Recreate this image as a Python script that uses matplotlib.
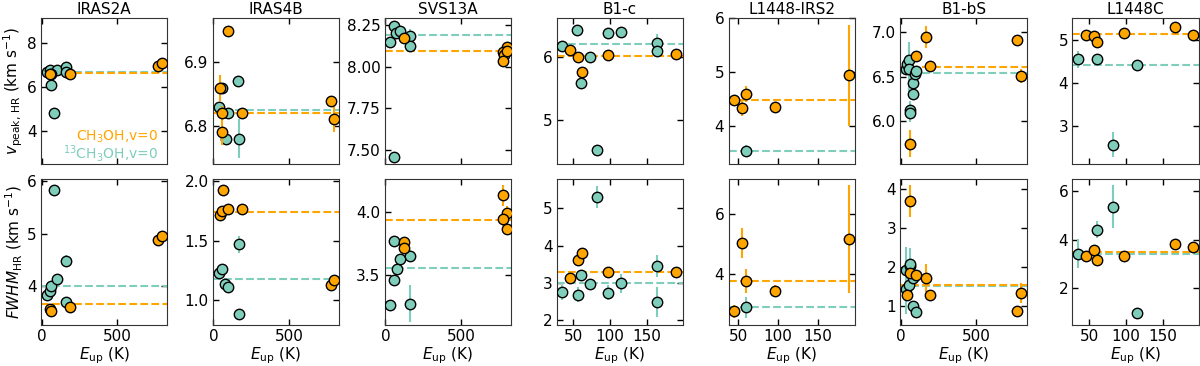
import matplotlib
matplotlib.use('Agg')
import matplotlib.pyplot as plt

# sources (columns)
sources = ['IRAS2A', 'IRAS4B', 'SVS13A', 'B1-c', 'L1448-IRS2', 'B1-bS', 'L1448C']

# peak velocities, (Eup [K], v [km/s], err)
vpeak_main = {
    'IRAS2A':     [(61, 6.58, 0), (55, 6.60, 0), (189, 6.60, 0), (770, 6.98, 0), (796, 7.09, 0)],
    'IRAS4B':     [(99, 6.949, 0.007), (44, 6.86, 0.02), (57, 6.821, 0.01), (55, 6.791, 0.02),
                   (189, 6.82, 0.008), (774, 6.84, 0.008), (796, 6.811, 0.02)],
    'SVS13A':     [(121, 8.175, 0.01), (802, 8.119, 0.01), (775, 8.087, 0.01), (786, 8.073, 0.01),
                   (775, 8.036, 0.01), (802, 8.097, 0.01)],
    'B1-c':       [(45, 6.106, 0.02), (56, 6.0, 0.02), (61, 5.75, 0.03), (97, 6.02, 0.02), (190, 6.04, 0.02)],
    'L1448-IRS2': [(45, 4.48, 0.05), (55, 4.33, 0.15), (60, 4.59, 0.15), (96.5, 4.36, 0.05), (190, 4.94, 0.94)],
    'B1-bS':      [(58, 5.75, 0.15), (97, 6.733, 0.03), (166, 6.947, 0.12), (190, 6.624, 0.03),
                   (774, 6.914, 0.03), (801, 6.511, 0.08)],
    'L1448C':     [(45.5, 5.13, 0.03), (56.8, 5.11, 0.03), (61, 4.96, 0.05), (97, 5.16, 0.03),
                   (166, 5.31, 0.03), (190.5, 5.125, 0.03)],
}
vpeak_13c = {
    'IRAS2A':     [(35, 6.68, 0), (57, 6.76, 0), (61, 6.08, 0), (79, 4.82, 0), (101, 6.80, 0),
                   (162, 6.94, 0), (164, 6.68, 0)],
    'IRAS4B':     [(35, 6.83, 0.005), (57, 6.86, 0.008), (99, 6.821, 0.008), (83, 6.781, 0.01),
                   (162, 6.87, 0.008), (167, 6.781, 0.03)],
    'SVS13A':     [(55, 8.248, 0.01), (33, 8.147, 0.01), (70, 8.204, 0.01), (99, 8.214, 0.01),
                   (165, 8.187, 0.04), (165, 8.127, 0.01), (59, 7.46, 0.01)],
    'B1-c':       [(34, 6.16, 0.03), (55, 6.415, 0.03), (72, 6.0, 0.03), (60, 5.585, 0.03),
                   (97, 6.37, 0.08), (115, 6.39, 0.08), (163, 6.21, 0.15), (163, 6.08, 0.08), (82, 4.52, 0.08)],
    'L1448-IRS2': [(60, 3.54, 0.1)],
    'B1-bS':      [(29, 6.59, 0.05), (40, 6.639, 0.1), (55, 6.684, 0.2), (53, 6.583, 0.25),
                   (58, 6.128, 0.1), (62, 6.09, 0.1), (77, 6.305, 0.05), (80, 6.436, 0.05),
                   (95, 6.534, 0.05), (100, 6.56, 0.05)],
    'L1448C':     [(35, 4.56, 0.2), (61, 4.56, 0.05), (115, 4.42, 0.05), (82.4, 2.58, 0.3)],
}

# line widths, (Eup [K], FWHM [km/s], err)
fwhm_main = {
    'IRAS2A':     [(55, 3.56, 0), (61, 3.52, 0), (189, 3.60, 0), (770, 4.88, 0), (796, 4.95, 0.05)],
    'IRAS4B':     [(61, 1.93, 0.02), (46, 1.72, 0.05), (55, 1.75, 0.03), (99, 1.77, 0.02),
                   (189, 1.77, 0.04), (774, 1.13, 0.02), (796, 1.17, 0.02)],
    'SVS13A':     [(126, 3.76, 0.02), (126, 3.712, 0.02), (775, 4.128, 0.08), (802, 3.986, 0.06),
                   (775, 3.938, 0.05), (802, 3.861, 0.05)],
    'B1-c':       [(45, 3.14, 0.05), (56, 3.6, 0.05), (61, 3.79, 0.05), (97, 3.3, 0.05), (190, 3.3, 0.05)],
    'L1448-IRS2': [(45, 2.76, 0.2), (55, 5.05, 0.5), (60, 3.77, 0.4), (96.5, 3.43, 0.2), (190, 5.18, 1.8)],
    'B1-bS':      [(58, 3.69, 0.42), (40, 1.3, 0.1), (62, 1.85, 0.1), (97, 1.8, 0.1), (166, 1.72, 0.35),
                   (190, 1.3, 0.1), (774, 0.87, 0.05), (801, 1.34, 0.25)],
    'L1448C':     [(45.5, 3.31, 0.05), (56.8, 3.57, 0.05), (61, 3.16, 0.05), (97, 3.35, 0.05),
                   (166, 3.82, 0.05), (190.5, 3.7, 0.05)],
}
fwhm_13c = {
    'IRAS2A':     [(79, 5.84, 0), (35, 3.83, 0), (57, 3.90, 0), (61, 4.01, 0), (101, 4.13, 0),
                   (162, 4.49, 0.1), (164, 3.70, 0.1)],
    'IRAS4B':     [(35, 1.23, 0.01), (57, 1.26, 0.01), (79, 1.14, 0.01), (99, 1.11, 0.01),
                   (167, 1.47, 0.07), (167, 0.89, 0.01)],
    'SVS13A':     [(33, 3.26, 0.02), (55, 3.457, 0.02), (77, 3.546, 0.02), (99, 3.625, 0.02),
                   (165, 3.647, 0.05), (59, 3.764, 0.02), (165, 3.27, 0.15)],
    'B1-c':       [(34, 2.75, 0.2), (56, 2.68, 0.2), (60, 3.21, 0.1), (72, 2.96, 0.1), (82, 5.3, 0.3),
                   (97, 2.73, 0.2), (115, 2.99, 0.25), (163, 3.46, 0.3), (163, 2.49, 0.4)],
    'L1448-IRS2': [(60, 2.9, 0.35)],
    'B1-bS':      [(29, 1.92, 0.6), (35, 1.45, 0.65), (58, 2.03, 0.45), (62, 2.08, 0.1), (53, 1.54, 0.2),
                   (77, 1.71, 0.1), (80, 1.0, 0.1), (100, 0.84, 0.1)],
    'L1448C':     [(34.2, 3.43, 0.6), (60, 4.41, 0.35), (82.4, 5.37, 0.9), (115, 0.97, 0.05)],
}

# mean values (dashed lines)
vpeak_mean_main = [6.64, 6.820, 8.094, 6.016, 4.48, 6.61, 5.14]
vpeak_mean_13c = [6.68, 6.825, 8.19, 6.197, 3.54, 6.545, 4.42]
fwhm_mean_main = [3.66, 1.74, 3.93, 3.30, 3.77, 1.55, 3.48]
fwhm_mean_13c = [4.01, 1.18, 3.55, 2.99, 2.90, 1.52, 3.43]

# axis limits
xlims = [(-5, 830), (-5, 830), (-5, 830), (27, 199), (38, 197), (-5, 840), (27, 199)]
ylims_top = [(2.5, 9.15), (6.741, 6.969), (7.415, 8.294), (4.30, 6.61), (3.29, 6.01), (5.523, 7.158), (2.125, 5.52)]
ylims_bot = [(3.26, 6.05), (0.794, 2.02), (3.10, 4.26), (1.87, 5.79), (2.31, 7.18), (0.52, 4.26), (0.48, 6.52)]

c_main = '#ffa500'
c_13c = '#7fcdbb'

plt.rcParams['font.size'] = 11

fig, axes = plt.subplots(2, 7, figsize=(12, 3.66))
fig.subplots_adjust(left=0.034, right=0.999, top=0.951, bottom=0.112, wspace=0.36, hspace=0.1)


def plot_set(ax, pts, color, z):
    for x, y, e in pts:
        if e > 0:
            ax.errorbar(x, y, yerr=e, fmt='none', ecolor=color, lw=1.5, zorder=z)
        ax.plot(x, y, 'o', ms=7.5, mfc=color, mec='k', mew=1.0, zorder=z + 1)


for j, src in enumerate(sources):
    ax_t = axes[0, j]
    ax_b = axes[1, j]

    plot_set(ax_t, vpeak_13c[src], c_13c, 3)
    plot_set(ax_t, vpeak_main[src], c_main, 5)
    ax_t.axhline(vpeak_mean_13c[j], color=c_13c, ls='--', lw=1.5, zorder=2)
    ax_t.axhline(vpeak_mean_main[j], color=c_main, ls='--', lw=1.5, zorder=2)

    plot_set(ax_b, fwhm_13c[src], c_13c, 3)
    plot_set(ax_b, fwhm_main[src], c_main, 5)
    ax_b.axhline(fwhm_mean_13c[j], color=c_13c, ls='--', lw=1.5, zorder=2)
    ax_b.axhline(fwhm_mean_main[j], color=c_main, ls='--', lw=1.5, zorder=2)

    ax_t.set_title(src, fontsize=11, pad=3)
    ax_t.set_xlim(xlims[j])
    ax_b.set_xlim(xlims[j])
    ax_t.set_ylim(ylims_top[j])
    ax_b.set_ylim(ylims_bot[j])
    ax_b.set_xlabel(r'$E_{\rm up}$ (K)', labelpad=1)

    for ax in (ax_t, ax_b):
        ax.tick_params(direction='in', top=True, right=True, length=4, width=1, pad=3)
        for sp in ax.spines.values():
            sp.set_color('0.2')

    if xlims[j][1] > 500:
        ax_t.set_xticks([0, 500])
        ax_b.set_xticks([0, 500])
    else:
        ax_t.set_xticks([50, 100, 150])
        ax_b.set_xticks([50, 100, 150])
    ax_t.set_xticklabels([])

axes[0, 1].set_yticks([6.8, 6.9])
axes[0, 2].set_yticks([7.5, 7.75, 8.0, 8.25])
axes[0, 2].set_yticklabels(['7.50', '7.75', '8.00', '8.25'])

axes[0, 0].set_ylabel(r'$v_{\rm peak,\,HR}$ (km s$^{-1}$)', labelpad=1)
axes[1, 0].set_ylabel(r'$FWHM_{\rm HR}$ (km s$^{-1}$)', labelpad=1)

axes[0, 0].text(0.93, 0.19, r'CH$_3$OH,v=0', color=c_main, ha='right', va='center',
                fontsize=10, transform=axes[0, 0].transAxes)
axes[0, 0].text(0.93, 0.07, r'$^{13}$CH$_3$OH,v=0', color=c_13c, ha='right', va='center',
                fontsize=10, transform=axes[0, 0].transAxes)

fig.savefig('out.png', dpi=100)
